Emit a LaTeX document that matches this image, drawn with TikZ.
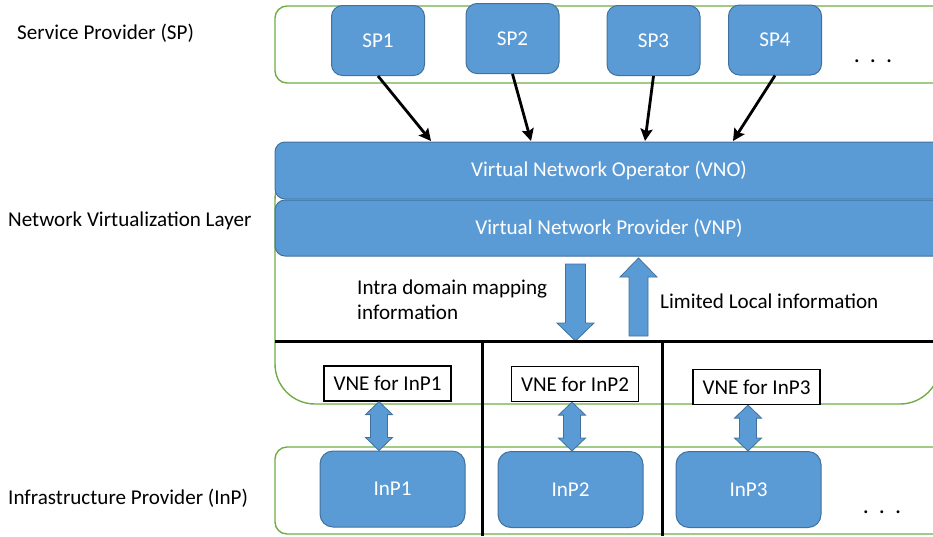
\documentclass[tikz,border=0pt]{standalone}
\usepackage{fontspec}
\setmainfont{Carlito}
\usetikzlibrary{calc,arrows.meta}

\definecolor{boxblue}{HTML}{5B9BD5}
\definecolor{edgeblue}{HTML}{41719C}
\definecolor{bandgreen}{HTML}{70AD47}

% double-headed block arrow between two points (top, bottom)
\newcommand\blockboth[2]{%
  \draw[blockarrow] (#1) -- ++(13.5,13) -- ++(-5,0) -- ($(#2)+(8.5,-13)$)
    -- ++(5,0) -- (#2) -- ++(-13.5,-13) -- ++(5,0) -- ($(#1)+(-8.5,13)$)
    -- ++(-5,0) -- cycle;}
% single block arrow pointing down: tail centre, tip
\newcommand\blockdown[2]{%
  \draw[blockarrow] ($(#1)+(-10,0)$) -- ($(#1)+(10,0)$) -- ($(#2)+(10,-18)$)
    -- ($(#2)+(18.5,-18)$) -- (#2) -- ($(#2)+(-18.5,-18)$)
    -- ($(#2)+(-10,-18)$) -- cycle;}
% single block arrow pointing up: tail centre, tip
\newcommand\blockup[2]{%
  \draw[blockarrow] ($(#1)+(-9.5,0)$) -- ($(#1)+(9.5,0)$) -- ($(#2)+(9.5,19)$)
    -- ($(#2)+(18.5,19)$) -- (#2) -- ($(#2)+(-18.5,19)$)
    -- ($(#2)+(-9.5,19)$) -- cycle;}

\begin{document}
\begin{tikzpicture}[x=1pt,y=-1pt,
  every node/.style={font=\fontsize{21.1}{25}\selectfont},
  band/.style={draw=bandgreen, line width=1.4pt, rounded corners=12pt},
  bluebox/.style={draw=edgeblue, fill=boxblue, line width=1pt,
    rounded corners=11pt, text=white, inner sep=0pt},
  spbox/.style={bluebox, minimum width=93pt, minimum height=70pt},
  inpbox/.style={bluebox, minimum width=145pt, minimum height=76pt, rounded corners=13pt},
  layerbox/.style={bluebox, minimum width=668pt, rounded corners=10pt},
  vnebox/.style={draw=black, line width=1.2pt, fill=white, inner sep=0pt,
    minimum width=127pt, minimum height=35pt},
  blockarrow/.style={draw=edgeblue, fill=boxblue, line width=0.8pt, line join=miter},
  sparrow/.style={draw=black, line width=2.8pt,
    -{Stealth[length=12pt,width=12pt,inset=2pt]}},
  divider/.style={draw=black, line width=3pt},
  sidelabel/.style={anchor=west, inner sep=0pt},
  dots/.style={anchor=base, inner sep=0pt, font=\fontsize{24}{25}\selectfont},
]
\useasboundingbox (0,0) rectangle (933,536);
\clip (0,0) rectangle (933,536);

% side labels
\node[sidelabel] (lsp)  at (17,33)  {Service Provider (SP)};
\node[sidelabel] (lnvl) at (8,221)  {Network Virtualization Layer};
\node[sidelabel] (linp) at (8,498)  {Infrastructure Provider (InP)};

% green bands
\draw[band] (275,6) rectangle (980,83);
\draw[band, rounded corners=40pt] (275,160) rectangle (940,404);
\draw[band] (275,447) rectangle (980,534);

% service providers
\node[spbox] (sp1) at (378,40.5)   {SP1};
\node[spbox] (sp2) at (512.5,38.5) {SP2};
\node[spbox] (sp3) at (653.5,40.5) {SP3};
\node[spbox] (sp4) at (775,40)     {SP4};
\node[dots] (spdots) at (873,62) {.\hspace{10pt}.\hspace{10pt}.};

% virtualization layer
\node[layerbox, minimum height=57pt] (vno) at (609,170.5) {Virtual Network Operator (VNO)};
\node[layerbox, minimum height=56pt] (vnp) at (609,228)   {Virtual Network Provider (VNP)};

% arrows from the service providers to the operator
\coordinate (a1) at (431,141);
\coordinate (a2) at (531,141);
\coordinate (a3) at (645,141);
\coordinate (a4) at (733,141);
\draw[sparrow] (sp1.south) -- (a1);
\draw[sparrow] (sp2.south) -- (a2);
\draw[sparrow] (sp3.south) -- (a3);
\draw[sparrow] (sp4.south) -- (a4);

% information exchange between the provider and the domains
\coordinate (dntail) at (575.5,264);
\coordinate (dntip)  at (575.5,341);
\coordinate (uptail) at (638.5,336);
\coordinate (uptip)  at (638.5,258);
\blockdown{dntail}{dntip}
\blockup{uptail}{uptip}
\node[anchor=west, align=left, inner sep=0pt] (intra) at (357,300)
  {Intra domain mapping\\information};
\node[anchor=west, inner sep=0pt] (local) at (660,301) {Limited Local information};

% domain dividers
\draw[divider] (275,341) -- (933,341);
\draw[divider] (482,341) -- (482,536);
\draw[divider] (662,341) -- (662,536);

% per-domain embedding
\node[vnebox] (vne1) at (387.5,383.5) {VNE for InP1};
\node[vnebox] (vne2) at (575,384)     {VNE for InP2};
\node[vnebox] (vne3) at (756.5,387)   {VNE for InP3};

% infrastructure providers
\node[inpbox] (inp1) at (392.5,489) {InP1};
\node[inpbox] (inp2) at (570.5,489.5) {InP2};
\node[inpbox] (inp3) at (748.5,489.5) {InP3};
\node[dots] (inpdots) at (882,513) {.\hspace{10pt}.\hspace{10pt}.};

\coordinate (d1t) at (vne1.south -| 379,0);
\coordinate (d1b) at (inp1.north -| 379,0);
\coordinate (d2t) at (vne2.south -| 572,0);
\coordinate (d2b) at (inp2.north -| 572,0);
\coordinate (d3t) at (vne3.south -| 748,0);
\coordinate (d3b) at (inp3.north -| 748,0);
\blockboth{d1t}{d1b}
\blockboth{d2t}{d2b}
\blockboth{d3t}{d3b}
\end{tikzpicture}
\end{document}
